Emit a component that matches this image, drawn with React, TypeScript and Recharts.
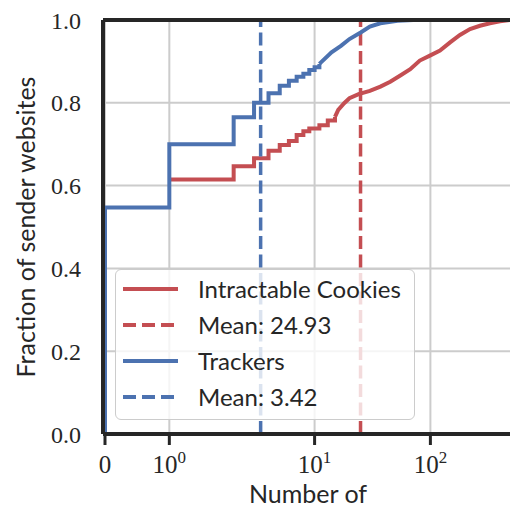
import { LineChart, Line, XAxis, YAxis, CartesianGrid, ReferenceLine } from "recharts"

// [count, fraction]
const cookieSteps = [
  [1, 0.615], [2, 0.647], [3, 0.666], [4, 0.684], [5, 0.698], [6, 0.708],
  [7, 0.722], [8, 0.731], [9, 0.738], [11, 0.746], [13, 0.757], [15, 0.766],
]
const cookieTail = [
  [15, 0.766], [16, 0.783], [18, 0.799], [20, 0.811], [24, 0.821], [30, 0.829],
  [37, 0.839], [45, 0.851], [55, 0.866], [67, 0.881], [81, 0.902], [99, 0.914],
  [121, 0.926], [148, 0.946], [180, 0.964], [220, 0.978], [268, 0.986],
  [327, 0.992], [399, 0.997], [487, 1.0],
]
const trackerSteps = [
  [0, 0], [0, 0.547], [1, 0.7], [2, 0.765], [3, 0.8], [4, 0.823], [5, 0.841],
  [6, 0.853], [7, 0.863], [8, 0.87], [9, 0.879], [10, 0.886], [11, 0.894],
]
const trackerTail = [
  [11, 0.894], [14, 0.922], [17, 0.938], [20, 0.954], [25, 0.97], [30, 0.984],
  [37, 0.992], [52, 0.998], [71, 1.0],
]
const cookieMean = 24.93
const trackerMean = 3.42

const xTicks = [0, 1, 10, 100]
const yTicks = [0, 0.2, 0.4, 0.6, 0.8, 1.0]

const RED = "#c44e52"
const BLUE = "#4c72b0"
const INK = "#262626"
const SANS = "Lato, 'DejaVu Sans', sans-serif"
const SERIF = "'Liberation Serif', 'DejaVu Serif', serif"

// matplotlib symlog, linthresh=2, linscale=1
const LINTHRESH = 2
const LINSCALE = 1 / (1 - 1 / 10)
function symlog(v: number) {
  const a = Math.abs(v)
  if (a <= LINTHRESH) return v * LINSCALE
  return Math.sign(v) * LINTHRESH * (LINSCALE + Math.log10(a / LINTHRESH))
}

const toRows = (pts: number[][]) => pts.map(([x, y]) => ({ u: symlog(x), y }))

const legendItems = [
  { label: "Intractable Cookies", color: RED, dash: false },
  { label: `Mean: ${cookieMean}`, color: RED, dash: true },
  { label: "Trackers", color: BLUE, dash: false },
  { label: `Mean: ${trackerMean}`, color: BLUE, dash: true },
]

function XTick(props: any) {
  const { x, y, payload } = props
  const raw = xTicks.find((v) => Math.abs(symlog(v) - payload.value) < 1e-6) ?? 0
  const base = y + 28
  if (raw === 0) {
    return (
      <text x={x} y={base} textAnchor="middle" fill={INK} fontFamily={SERIF} fontSize={25}>
        0
      </text>
    )
  }
  return (
    <text x={x} y={base} textAnchor="middle" fill={INK} fontFamily={SERIF} fontSize={25}>
      <tspan>10</tspan>
      <tspan dy={-10} fontSize={17}>
        {Math.round(Math.log10(raw))}
      </tspan>
    </text>
  )
}

const lineProps = { dot: false, activeDot: false, isAnimationActive: false, strokeWidth: 4 } as const

export default function App() {
  return (
    <div style={{ position: "fixed", left: 0, top: 0, width: 510, height: 508, overflow: "hidden", background: "#fff" }}>
      <LineChart width={520} height={508} margin={{ top: 20, right: 7, bottom: 0, left: 0 }}>
        <CartesianGrid stroke="#cccccc" strokeWidth={2} />
        <XAxis
          type="number"
          dataKey="u"
          domain={[-0.0345, 7.047]}
          ticks={xTicks.map(symlog)}
          interval={0}
          allowDataOverflow
          height={74}
          tickSize={11}
          tickMargin={0}
          axisLine={{ stroke: INK, strokeWidth: 4 }}
          tickLine={{ stroke: INK, strokeWidth: 3 }}
          tick={<XTick />}
          label={{
            content: () => (
              <text x={308} y={503} textAnchor="middle" fill={INK} fontFamily={SANS} fontSize={25}>
                Number of
              </text>
            ),
          }}
        />
        <YAxis
          type="number"
          domain={[0, 1]}
          ticks={yTicks}
          interval={0}
          width={103}
          tickSize={0}
          tickMargin={22}
          tickFormatter={(v: number) => v.toFixed(1)}
          axisLine={{ stroke: INK, strokeWidth: 4 }}
          tick={{ fill: INK, fontFamily: SERIF, fontSize: 24 }}
          label={{
            content: () => (
              <text
                x={35}
                y={227}
                transform="rotate(-90 35 227)"
                textAnchor="middle"
                fill={INK}
                fontFamily={SANS}
                fontSize={25}
              >
                Fraction of sender websites
              </text>
            ),
          }}
        />
        <Line data={toRows(cookieSteps)} dataKey="y" type="stepAfter" stroke={RED} {...lineProps} />
        <Line data={toRows(cookieTail)} dataKey="y" type="linear" stroke={RED} {...lineProps} />
        <ReferenceLine x={symlog(cookieMean)} stroke={RED} strokeWidth={3.5} strokeDasharray="13 5.5" />
        <Line data={toRows(trackerSteps)} dataKey="y" type="stepAfter" stroke={BLUE} {...lineProps} />
        <Line data={toRows(trackerTail)} dataKey="y" type="linear" stroke={BLUE} {...lineProps} />
        <ReferenceLine x={symlog(trackerMean)} stroke={BLUE} strokeWidth={3.5} strokeDasharray="13 5.5" />
        <ReferenceLine y={1} stroke={INK} strokeWidth={4} />
      </LineChart>
      <div
        style={{
          position: "absolute",
          left: 115,
          top: 269,
          width: 300,
          height: 151,
          boxSizing: "border-box",
          border: "1.5px solid #cccccc",
          borderRadius: 6,
          background: "rgba(255,255,255,0.8)",
          paddingTop: 1,
        }}
      >
        {legendItems.map((item) => (
          <div key={item.label} style={{ display: "flex", alignItems: "center", height: 36 }}>
            <svg width={55} height={36} style={{ marginLeft: 7, flex: "none" }}>
              <line
                x1={0}
                x2={55}
                y1={18}
                y2={18}
                stroke={item.color}
                strokeWidth={4}
                strokeDasharray={item.dash ? "13 6" : undefined}
              />
            </svg>
            <span style={{ marginLeft: 20, fontFamily: SANS, fontSize: 24, color: INK, lineHeight: "36px", whiteSpace: "nowrap" }}>
              {item.label}
            </span>
          </div>
        ))}
      </div>
    </div>
  )
}
